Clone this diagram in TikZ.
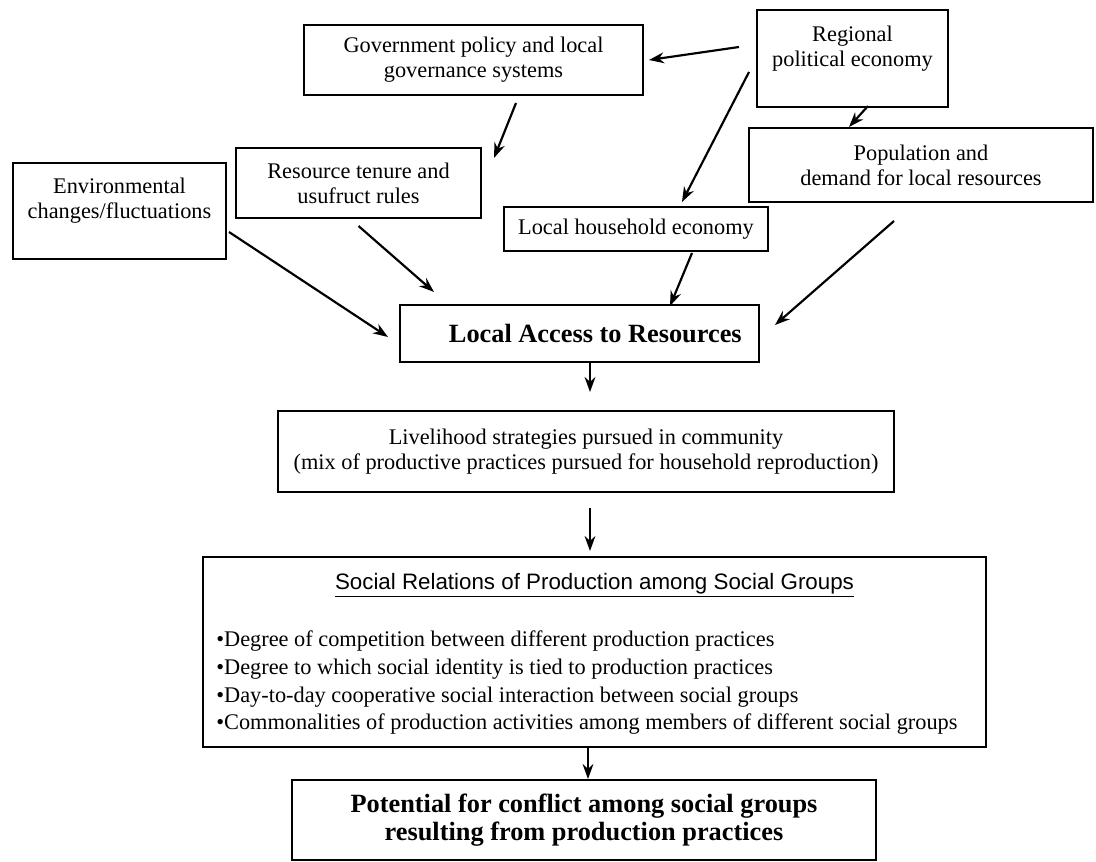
\documentclass[tikz,border=0pt]{standalone}
\usepackage{fontspec}
\setmainfont{Liberation Serif}
\newfontfamily\headfont{Liberation Sans}
\usetikzlibrary{arrows.meta}

\begin{document}
\begin{tikzpicture}[x=0.6pt,y=-0.6pt,
            box/.style={draw,line width=1.2pt,align=center,inner sep=2pt,
                font=\fontsize{13.4pt}{15pt}\selectfont},
            boldbox/.style={box,font=\fontsize{15.8pt}{16.8pt}\selectfont\bfseries},
            plain/.style={inner sep=0pt,align=left},
            arr/.style={-{Stealth[length=9pt,width=6.5pt]},line width=1.3pt}]
            \fill[white] (0,0) rectangle (1096,862);

            \node[box,minimum width=203.4pt,minimum height=42pt] (gov) at (473.5,60)
                {Government policy and local\\governance systems};
            \node[box,minimum width=114.6pt,minimum height=58.2pt] (region) at (852.5,58.5)
                {Regional\\political economy\\ ~};
            \node[box,minimum width=147pt,minimum height=42pt] (tenure) at (358.5,183)
                {Resource tenure and\\usufruct rules};
            \node[box,minimum width=127.8pt,minimum height=57.6pt] (envir) at (119.5,211)
                {Environmental\\changes/fluctuations\\ ~};
            \node[box,minimum width=206.4pt,minimum height=44.4pt] (popul) at (921,165)
                {Population and\\demand for local resources};
            \node[box,minimum width=158.4pt,minimum height=26.4pt] (househ) at (636,229)
                {Local household economy};
            \node[boldbox,minimum width=215.4pt,minimum height=34.2pt] (access) at (579.5,333.5)
                {\hspace*{19pt}Local Access to Resources};
            \node[box,minimum width=369.6pt,minimum height=48.6pt] (livelih) at (586,451.5)
                {Livelihood strategies pursued in community\\(mix of productive practices pursued for household reproduction)};
            \node[box,minimum width=469.8pt,minimum height=114pt] (social) at (594.5,652) {};
            \node[plain,font=\headfont\fontsize{13.4pt}{15pt}\selectfont] (socialhead) at (594.5,585)
                {\underline{Social Relations of Production among Social Groups}};
            \node[plain,anchor=west,font=\fontsize{13.4pt}{16.6pt}\selectfont] (socialitems) at (216,683)
                {\textbullet Degree of competition between different production practices\\
                \textbullet Degree to which social identity is tied to production practices\\
                \textbullet Day-to-day cooperative social interaction between social groups\\
                \textbullet Commonalities of production activities among members of different social groups};
            \node[boldbox,minimum width=350.4pt,minimum height=48pt] (conflict) at (584,820)
                {Potential for conflict among social groups\\resulting from production practices};

            \draw[arr] ([shift={(-17,-11.5)}]region.west) -- ([shift={(5,0)}]gov.east);
            \draw[arr] ([shift={(-7,13.5)}]region.west) -- ([shift={(46,-4)}]househ.north);
            \draw[arr] ([shift={(15.5,-2)}]region.south) -- ([shift={(-72,0)}]popul.north);
            \draw[arr] ([shift={(42.5,7)}]gov.south) -- ([shift={(12,-25)}]tenure.east);
            \draw[arr] ([shift={(2,21)}]envir.east) -- ([shift={(-11,3.5)}]access.west);
            \draw[arr] ([shift={(0,7)}]tenure.south) -- ([shift={(35,-12)}]access.north west);
            \draw[arr] ([shift={(56,1)}]househ.south) -- ([shift={(-90,2)}]access.north east);
            \draw[arr] ([shift={(-27,18)}]popul.south) -- ([shift={(15,-8.5)}]access.east);
            \draw[arr] ([shift={(10.5,0)}]access.south) -- ([shift={(4,-18)}]livelih.north);
            \draw[arr] ([shift={(4,15)}]livelih.south) -- ([shift={(-4.5,-5)}]social.north);
            \draw[arr] ([shift={(-6.5,0)}]social.south) -- ([shift={(4,0)}]conflict.north);

        \end{tikzpicture}
\end{document}
